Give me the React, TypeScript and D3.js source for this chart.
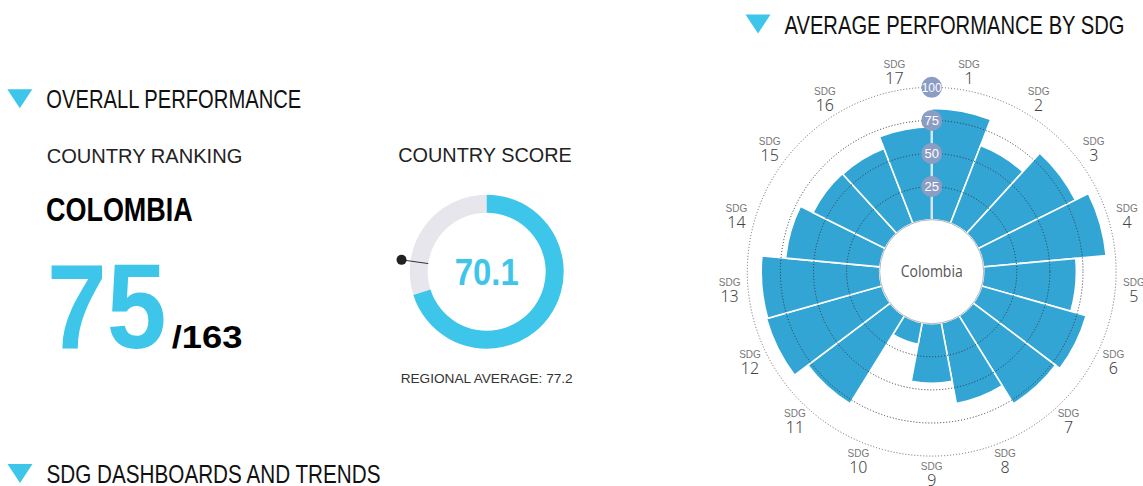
import * as d3 from 'd3'

// SDG wheel data
const sdgLabels = ['1', '2', '3', '4', '5', '6', '7', '8', '9', '10', '11', '12', '13', '14', '15', '16', '17']
const sdgScores = [84, 63, 82, 93, 70, 82, 78, 62, 45, 16.5, 78, 90.5, 89.5, 71.5, 61, 60.5, 70]
const ringTicks = [25, 50, 75, 100]

// overall performance
const countryName = 'Colombia'
const countryRank = 75
const countryTotal = 163
const countryScore = 70.1
const regionalAverage = 77.2

const CYAN = '#3dc6ea'
const BAR = '#32a5d5'
const narrow = '"Liberation Sans Narrow", "Liberation Sans", Arial, sans-serif'
const sans = '"Liberation Sans", Arial, sans-serif'

function Heading({ x, y, text, width }: { x: number; y: number; text: string; width: number }) {
  // y = cap top
  return (
    <g>
      <path d={`M${x},${y}L${x + 25},${y}L${x + 12.5},${y + 19}Z`} fill={CYAN} />
      <text x={x + 39} y={y + 19} fontFamily={narrow} fontSize={26} fill="#111" textLength={width} lengthAdjust="spacingAndGlyphs">
        {text}
      </text>
    </g>
  )
}

export default function App() {
  // wheel
  const cx = 931.7
  const cy = 271.7
  const r = d3.scaleLinear().domain([0, 100]).range([52, 184.4])
  const angle = d3.scaleBand<string>().domain(sdgLabels).range([0, 2 * Math.PI])
  const barArc = d3.arc<any>()
    .innerRadius(r(0))
    .outerRadius((d: any) => r(d.value))
    .startAngle((d: any) => angle(d.label)!)
    .endAngle((d: any) => angle(d.label)! + angle.bandwidth())
  const bars = sdgLabels.map((label, i) => ({ label, value: sdgScores[i] }))
  const labelR = 203

  // gauge
  const gx = 486.7
  const gy = 271.7
  const gIn = 59
  const gOut = 77
  const gauge = d3.scaleLinear().domain([0, 100]).range([0, 2 * Math.PI])
  const ring = d3.arc<any>().innerRadius(gIn).outerRadius(gOut)
  const avgA = gauge(regionalAverage)
  const pt = (rad: number) => [gx + rad * Math.sin(avgA), gy - rad * Math.cos(avgA)]
  const [lx1, ly1] = pt(gIn)
  const [lx2, ly2] = pt(86)

  return (
    <svg width={1143} height={486} style={{ position: 'absolute', left: 0, top: 0, background: '#fff' }}>
      <Heading x={7.3} y={89.3} text="OVERALL PERFORMANCE" width={255} />
      <Heading x={745.5} y={14.5} text="AVERAGE PERFORMANCE BY SDG" width={340} />
      <Heading x={7.5} y={464} text="SDG DASHBOARDS AND TRENDS" width={334} />

      {/* ranking */}
      <text x={46.7} y={162.7} fontFamily={sans} fontSize={20} fill="#222" textLength={195.6} lengthAdjust="spacingAndGlyphs">
        COUNTRY RANKING
      </text>
      <text x={46} y={220.7} fontFamily={narrow} fontWeight="bold" fontSize={33.5} fill="#000" textLength={146.7} lengthAdjust="spacingAndGlyphs">
        {countryName.toUpperCase()}
      </text>
      <text x={47} y={348.3} fontFamily={sans} fontWeight="bold" fontSize={121} fill={CYAN} textLength={119.5} lengthAdjust="spacingAndGlyphs">
        {countryRank}
      </text>
      <text x={171.7} y={348.3} fontFamily={sans} fontWeight="bold" fontSize={30.5} fill="#000" textLength={70.7} lengthAdjust="spacingAndGlyphs">
        /{countryTotal}
      </text>

      {/* score gauge */}
      <text x={398.3} y={162.3} fontFamily={sans} fontSize={19.5} fill="#222" textLength={173.4} lengthAdjust="spacingAndGlyphs">
        COUNTRY SCORE
      </text>
      <g transform={`translate(${gx},${gy})`}>
        <path d={ring({ startAngle: gauge(countryScore), endAngle: gauge(100) })!} fill="#e8e6ed" />
        <path d={ring({ startAngle: 0, endAngle: gauge(countryScore) })!} fill={CYAN} />
        <text y={13.3} textAnchor="middle" fontFamily={sans} fontWeight="bold" fontSize={37} fill={CYAN} textLength={64} lengthAdjust="spacingAndGlyphs">
          {countryScore.toFixed(1)}
        </text>
      </g>
      <line x1={lx1} y1={ly1} x2={lx2} y2={ly2} stroke="#333" strokeWidth={1} />
      <circle cx={lx2} cy={ly2} r={5} fill="#222" />
      <text x={400.7} y={383.3} fontFamily={sans} fontSize={13} fill="#333" textLength={172} lengthAdjust="spacingAndGlyphs">
        REGIONAL AVERAGE: {regionalAverage}
      </text>

      {/* SDG wheel */}
      <g transform={`translate(${cx},${cy})`}>
        {bars.map((d) => (
          <path key={d.label} d={barArc(d)!} fill={BAR} stroke="#fff" strokeWidth={1.6} />
        ))}
        {ringTicks.map((t) => (
          <circle key={t} r={r(t)} fill="none" stroke={t === 100 ? '#666' : '#333'} strokeWidth={1} strokeDasharray="1 2" />
        ))}
        <line x1={0} y1={-r(0)} x2={0} y2={-r(75)} stroke="#d4e7f3" strokeWidth={2.2} />
        <circle r={r(0)} fill="#fff" stroke="#b5b5b5" strokeWidth={1} />
        <text y={5.5} textAnchor="middle" fontFamily='"Open Sans", "Noto Sans", sans-serif' fontSize={15.5} fill="#555" textLength={62} lengthAdjust="spacingAndGlyphs">
          {countryName}
        </text>
        {ringTicks.map((t) => (
          <g key={t} transform={`translate(0,${-r(t)})`}>
            <circle r={10.5} fill="#8c9dc4" />
            <text y={4.5} textAnchor="middle" fontFamily={narrow} fontSize={t === 100 ? 12 : 13} fill="#fff">
              {t}
            </text>
          </g>
        ))}
        {bars.map((d) => {
          const a = angle(d.label)! + angle.bandwidth() / 2
          const x = labelR * Math.sin(a)
          const y = -labelR * Math.cos(a)
          return (
            <g key={d.label} transform={`translate(${x},${y})`} textAnchor="middle">
              <text y={-4.4} fontFamily={narrow} fontSize={10} fill="#777">
                SDG
              </text>
              <text y={11.6} fontFamily='"Noto Sans", sans-serif' fontWeight={300} fontSize={16} fill="#444">
                {d.label}
              </text>
            </g>
          )
        })}
      </g>
    </svg>
  )
}
